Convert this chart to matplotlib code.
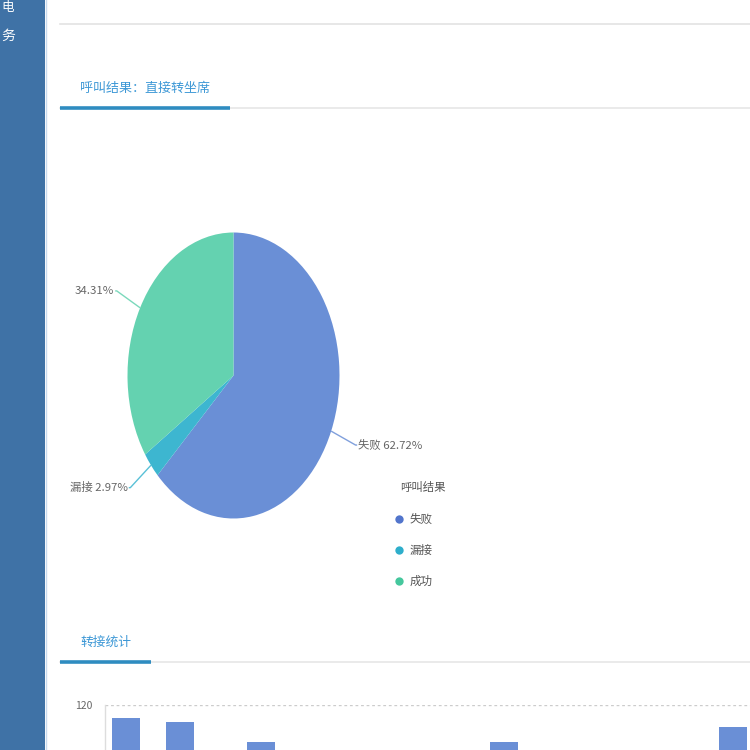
import numpy as np
import matplotlib
matplotlib.use("Agg")
import matplotlib.pyplot as plt
from matplotlib.lines import Line2D
from matplotlib.patches import Rectangle

plt.rcParams['font.family'] = ['Noto Sans CJK SC', 'DejaVu Sans']

# ---------------- data ----------------
pie_labels = ['失败', '漏接', '成功']
pie_values = [62.72, 2.97, 34.31]
pie_label_texts = ['失败 62.72%', '漏接 2.97%', '34.31%']
pie_colors = ['#6a8fd6', '#3db6d0', '#64d2b0']
legend_colors = ['#5275cc', '#2eaecb', '#45c79d']
legend_title = '呼叫结果'

section1_title = '呼叫结果：直接转坐席'
section2_title = '转接统计'
sidebar_texts = ['电', '务']

bar_slots = [0, 4, 10, 28, 45]
bar_values = [112, 110, 98, 98, 107]
bar_color = '#6a8fd6'
y_ticks = [120]

W = H = 750.0
fig = plt.figure(figsize=(7.5, 7.5), dpi=100)
fig.patch.set_facecolor('white')

def fx(x):
    return x / W

def fy(y):
    return 1 - y / H

# ---------------- sidebar ----------------
fig.add_artist(Rectangle((0, 0), fx(45), 1, transform=fig.transFigure,
                         facecolor='#3f72a6', edgecolor='none', zorder=0))
fig.add_artist(Line2D([fx(45.5), fx(45.5)], [0, 1], transform=fig.transFigure,
                      color='#c9dbee', lw=1.0))
fig.text(fx(1), fy(1), sidebar_texts[0], color='white', fontsize=9,
         ha='left', va='top')
fig.text(fx(1), fy(36), sidebar_texts[1], color='white', fontsize=10,
         ha='left', va='center')

# ---------------- header lines ----------------
fig.add_artist(Line2D([fx(60), 1], [fy(24), fy(24)], transform=fig.transFigure,
                      color='#e3e3e3', lw=1.2))

# section 1
fig.text(fx(80), fy(88), section1_title, color='#3d98d6', fontsize=9.4,
         ha='left', va='center')
fig.add_artist(Line2D([fx(60), 1], [fy(108), fy(108)], transform=fig.transFigure,
                      color='#e6e6e6', lw=1.2))
fig.add_artist(Line2D([fx(60), fx(230)], [fy(108), fy(108)], transform=fig.transFigure,
                      color='#2f8cc0', lw=2.6, solid_capstyle='butt'))

# section 2
fig.text(fx(80), fy(642), section2_title, color='#3d98d6', fontsize=9.2,
         ha='left', va='center')
fig.add_artist(Line2D([fx(60), 1], [fy(662), fy(662)], transform=fig.transFigure,
                      color='#e6e6e6', lw=1.2))
fig.add_artist(Line2D([fx(60), fx(151)], [fy(662), fy(662)], transform=fig.transFigure,
                      color='#2f8cc0', lw=2.6, solid_capstyle='butt'))

# ---------------- pie ----------------
cx, cy, rx, ry = 233.5, 375.5, 106, 143
axp = fig.add_axes([fx(cx - rx), fy(cy + ry), 2 * rx / W, 2 * ry / H])
wedges, _ = axp.pie(pie_values, colors=pie_colors, startangle=90, counterclock=False,
                    radius=1.0, wedgeprops=dict(linewidth=0))
axp.set_aspect('auto')
axp.set_xlim(-1, 1)
axp.set_ylim(-1, 1)
axp.axis('off')

for w, txt, col in zip(wedges, pie_label_texts, pie_colors):
    ang = np.deg2rad((w.theta1 + w.theta2) / 2)
    ca, sa = np.cos(ang), np.sin(ang)
    x0, y0 = ca * 1.0, sa * 1.0
    x1, y1 = ca * 1.25, sa * 1.25
    side = 1 if ca > 0 else -1
    x2 = x1 + side * 0.015
    axp.plot([x0, x1, x2], [y0, y1, y1], color=col, lw=1.0, alpha=0.85,
             clip_on=False, solid_capstyle='butt')
    axp.text(x2 + side * 0.01, y1, txt, ha='left' if side > 0 else 'right',
             va='center', fontsize=8.2, color='#666666', clip_on=False)

# legend
fig.text(fx(400), fy(487), legend_title, fontsize=8.2, color='#555555',
         ha='left', va='center')
for i, (lab, col) in enumerate(zip(pie_labels, legend_colors)):
    yy = 519 + i * 31
    fig.add_artist(Line2D([fx(399)], [fy(yy)], transform=fig.transFigure,
                          marker='o', markersize=6, color=col, markeredgewidth=0,
                          linestyle='none'))
    fig.text(fx(410), fy(yy), lab, fontsize=8.3, color='#555555',
             ha='left', va='center')

# ---------------- bar chart ----------------
unit = 13.5
left_px, right_px = 105, 760
top_px, zero_px = 705, 905
axb = fig.add_axes([fx(left_px), fy(zero_px), (right_px - left_px) / W,
                    (zero_px - top_px) / H])
x0 = -21 / unit
axb.set_xlim(x0, x0 + (right_px - left_px) / unit)
axb.set_ylim(0, 120)
axb.bar(bar_slots, bar_values, width=28 / unit, color=bar_color, zorder=2)
axb.set_yticks(y_ticks)
axb.set_yticklabels([str(t) for t in y_ticks], fontsize=7.5, color='#666666')
axb.tick_params(axis='y', length=0, pad=9)
axb.set_xticks([])
for s in ['top', 'right', 'bottom']:
    axb.spines[s].set_visible(False)
axb.spines['left'].set_color('#dddddd')
axb.spines['left'].set_linewidth(1.0)
axb.grid(axis='y', color='#cccccc', linestyle=(0, (2, 2)), lw=1.0, zorder=0)
axb.set_facecolor('none')

fig.savefig('out.png', dpi=100)
